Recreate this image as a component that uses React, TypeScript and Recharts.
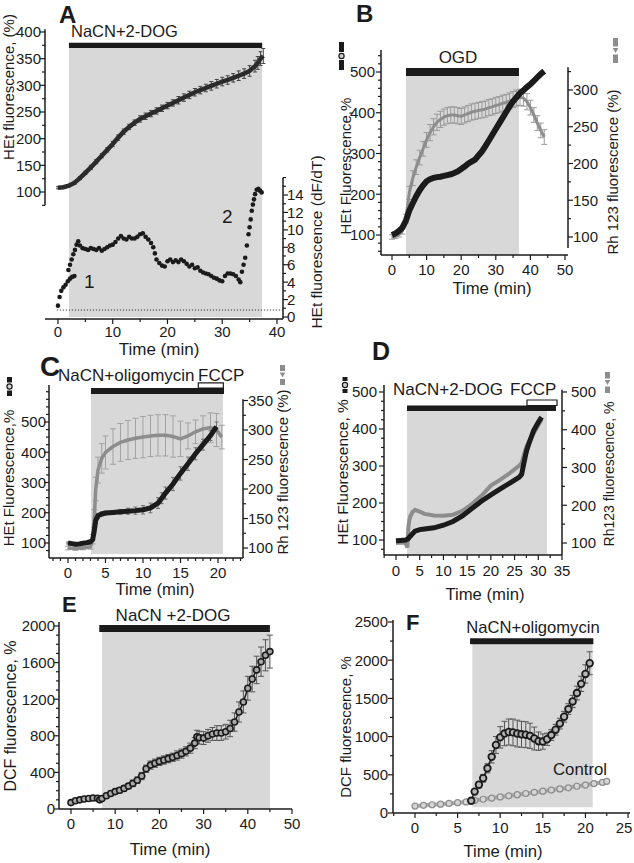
import React from "react";
import { ComposedChart, Line, XAxis, YAxis, ReferenceArea, ReferenceLine, ErrorBar } from "recharts";

const W = 634;
const H = 863;
const FONT = '"Liberation Sans", Arial, Helvetica, sans-serif';
const INK = "#1b1b1b";
const SHADE = "#d8d8d8";
const RH = "#8d8d8d";

// A: HEt signal (left) and its derivative dF/dT (right)
const A_T = [0, 1, 2, 3, 4, 5, 6, 7, 8, 9, 10, 11, 12, 13, 14, 15, 16, 17, 18, 19, 20, 21, 22, 23, 24, 25, 26, 27, 28, 29, 30, 31, 32, 33, 34, 35, 36, 36.5, 37, 37.5];
const A_HET = [108, 109, 112, 117, 126, 136, 146, 157, 168, 179, 190, 202, 213, 222, 230, 237, 242, 247, 252, 257, 262, 267, 272, 277, 282, 287, 291, 295, 299, 303, 307, 310, 314, 318, 322, 327, 336, 342, 350, 355];
const A_HET_E = [2, 2, 2, 3, 3, 3, 4, 4, 4, 4, 5, 5, 5, 5, 5, 6, 6, 6, 6, 6, 6, 6, 7, 7, 7, 7, 7, 7, 8, 8, 8, 8, 8, 9, 9, 10, 11, 12, 13, 14];
const A_RATE_T = [0, 0.3, 0.6, 1.0, 1.4, 1.8, 2.2, 2.6, 3.0, 1.9, 2.2, 2.5, 2.8, 3.1, 3.4, 3.7, 4.0, 4.5, 5.0, 5.5, 6.0, 6.5, 7.0, 7.5, 8.0, 8.5, 9.0, 9.5, 10.0, 10.5, 11.0, 11.5, 12.0, 12.5, 13.0, 13.5, 14.0, 14.5, 15.0, 15.5, 16.0, 16.5, 17.0, 17.4, 17.7, 18.0, 18.5, 19.0, 19.5, 20.0, 20.5, 21.0, 21.5, 22.0, 22.5, 23.0, 23.5, 24.0, 24.5, 25.0, 25.5, 26.0, 26.5, 27.0, 27.5, 28.0, 28.5, 29.0, 29.5, 30.0, 30.5, 31.0, 31.5, 32.0, 32.5, 33.0, 33.3, 33.6, 33.9, 34.2, 34.5, 34.8, 35.0, 35.2, 35.4, 35.6, 35.8, 36.0, 36.3, 36.6, 36.9, 37.2];
const A_RATE_V = [1.3, 2.3, 3.0, 3.4, 3.7, 4.1, 4.4, 4.6, 4.7, 5.4, 6.0, 6.6, 7.2, 7.7, 8.3, 8.7, 8.2, 7.9, 7.8, 7.7, 7.9, 7.8, 7.7, 7.9, 7.6, 7.8, 8.0, 8.2, 8.3, 8.6, 9.0, 9.3, 9.0, 8.9, 9.2, 9.0, 9.0, 9.2, 9.5, 9.6, 9.2, 8.9, 8.5, 8.0, 7.3, 6.6, 6.2, 5.9, 5.8, 6.4, 6.6, 6.3, 6.5, 6.3, 6.6, 6.4, 6.1, 5.8, 6.0, 5.6, 5.7, 5.3, 5.1, 5.0, 4.9, 4.7, 4.5, 4.4, 4.2, 4.1, 4.7, 5.0, 5.0, 4.9, 4.7, 4.3, 4.0, 5.2, 6.0, 6.8, 8.2, 9.5, 10.3, 11.2, 12.2, 12.9, 13.5, 14.1, 14.6, 14.7, 14.5, 14.3];
const A_XLAB = [0, 10, 20, 30, 40];
const A_YLAB = [100, 150, 200, 250, 300, 350, 400];
const A_RLAB = [0, 2, 4, 6, 8, 10, 12, 14];

// B: OGD, HEt (left) and Rh123 (right)
const B_T = [0, 1, 2, 3, 4, 5, 6, 7, 8, 9, 10, 11, 12, 13, 14, 15, 16, 17, 18, 19, 20, 21, 22, 23, 24, 25, 26, 27, 28, 29, 30, 31, 32, 33, 34, 35, 36, 37, 38, 39, 40, 41, 42, 43, 44];
const B_HET = [100, 104, 110, 118, 135, 160, 178, 195, 210, 222, 232, 237, 240, 242, 243, 245, 247, 249, 252, 256, 262, 268, 275, 280, 285, 295, 305, 318, 332, 346, 360, 374, 388, 402, 416, 428, 438, 448, 455, 463, 470, 478, 487, 495, 502];
const B_RH = [100, 101, 103, 108, 125, 160, 180, 195, 208, 220, 232, 242, 250, 256, 260, 263, 265, 266, 266, 265, 264, 266, 268, 270, 271, 272, 273, 274, 276, 277, 279, 280, 282, 283, 285, 287, 289, 290, 289, 284, 276, 266, 255, 245, 236];
const B_RH_E = [3, 3, 3, 4, 6, 9, 10, 10, 10, 10, 10, 11, 11, 11, 11, 11, 11, 11, 11, 11, 11, 11, 11, 11, 11, 11, 11, 11, 11, 11, 11, 11, 11, 11, 11, 11, 11, 11, 11, 11, 10, 10, 10, 10, 10];
const B_XLAB = [0, 10, 20, 30, 40, 50];
const B_YLAB = [100, 200, 300, 400, 500];
const B_RLAB = [100, 150, 200, 250, 300];

// C: NaCN+oligomycin then FCCP
const C_T = [0, 0.5, 1, 1.5, 2, 2.5, 3, 3.3, 3.5, 3.7, 4, 4.5, 5, 6, 7, 8, 9, 10, 11, 12, 12.5, 13, 14, 15, 16, 17, 18, 19, 19.8];
const C_HET = [100, 98, 96, 97, 99, 101, 104, 112, 140, 175, 190, 196, 199, 201, 203, 205, 207, 210, 216, 232, 248, 265, 295, 330, 362, 395, 425, 455, 485];
const C_HET_E = [3, 3, 3, 3, 3, 3, 4, 6, 10, 10, 8, 6, 6, 6, 8, 10, 12, 14, 16, 18, 18, 20, 22, 22, 22, 20, 18, 16, 15];
const C_RH_T = [0, 1, 2, 3, 3.3, 3.5, 3.7, 4, 4.5, 5, 6, 7, 8, 9, 10, 11, 12, 13, 14, 15, 16, 17, 18, 19, 19.8, 20.5];
const C_RH = [100, 99, 100, 102, 115, 150, 200, 232, 252, 262, 272, 279, 283, 286, 288, 290, 291, 291, 289, 285, 290, 297, 302, 304, 300, 288];
const C_RH_E = [3, 3, 3, 4, 8, 15, 20, 22, 25, 28, 30, 32, 33, 34, 35, 35, 35, 35, 35, 30, 22, 20, 22, 25, 28, 20];
const C_XLAB = [0, 5, 10, 15, 20];
const C_YLAB = [100, 200, 300, 400, 500];
const C_RLAB = [100, 150, 200, 250, 300, 350];

// D: NaCN+2-DOG then FCCP
const D_T = [0, 1, 2, 2.5, 3, 4, 5, 6, 8, 10, 12, 14, 16, 18, 20, 22, 24, 26, 26.5, 27, 27.5, 28, 29, 30, 30.7];
const D_HET = [98, 99, 100, 103, 110, 124, 128, 130, 133, 140, 150, 165, 185, 205, 222, 238, 254, 270, 278, 310, 340, 360, 395, 418, 432];
const D_RH_T = [0, 1, 2, 2.4, 2.6, 2.8, 3, 3.5, 4, 5, 6, 8, 10, 12, 14, 16, 18, 20, 22, 24, 26, 26.5, 27, 27.5, 28, 29, 30, 30.7];
const D_RH = [100, 101, 100, 88, 140, 160, 170, 182, 188, 183, 177, 173, 172, 175, 185, 203, 225, 252, 268, 285, 305, 312, 335, 355, 368, 390, 412, 428];
const D_XLAB = [0, 5, 10, 15, 20, 25, 30, 35];
const D_YLAB = [100, 200, 300, 400, 500];
const D_RLAB = [100, 200, 300, 400, 500];

// E: DCF, NaCN +2-DOG
const E_T = [0, 1, 2, 3, 4, 5, 6, 6.5, 7, 8, 9, 10, 11, 12, 13, 14, 15, 16, 17, 18, 19, 20, 21, 22, 23, 24, 25, 26, 27, 28, 28.5, 29, 30, 31, 32, 33, 34, 35, 36, 37, 38, 39, 40, 41, 42, 43, 44, 45];
const E_DCF = [70, 90, 100, 110, 115, 120, 118, 100, 115, 145, 170, 190, 205, 225, 250, 280, 315, 360, 440, 480, 500, 520, 535, 550, 565, 585, 605, 630, 665, 720, 790, 780, 775, 800, 820, 830, 830, 845, 880, 950, 1060, 1170, 1320, 1420, 1520, 1610, 1680, 1720];
const E_DCF_E = [20, 20, 20, 20, 20, 20, 20, 20, 20, 25, 25, 25, 30, 30, 30, 35, 35, 40, 40, 45, 45, 45, 45, 45, 45, 50, 50, 50, 55, 60, 70, 70, 70, 70, 70, 80, 80, 80, 90, 100, 110, 120, 130, 140, 150, 160, 170, 180];
const E_XLAB = [0, 10, 20, 30, 40, 50];
const E_YLAB = [0, 400, 800, 1200, 1600, 2000];

// F: DCF, NaCN+oligomycin vs control
const F_T = [6.6, 7, 7.5, 8, 8.5, 9, 9.5, 10, 10.5, 11, 11.5, 12, 12.5, 13, 13.5, 14, 14.5, 15, 15.5, 16, 16.5, 17, 17.5, 18, 18.5, 19, 19.5, 20, 20.5];
const F_OLIGO = [160, 280, 370, 455, 585, 735, 890, 990, 1040, 1060, 1055, 1040, 1030, 1025, 1010, 975, 940, 935, 965, 1020, 1090, 1170, 1260, 1360, 1460, 1570, 1690, 1820, 1960];
const F_OLIGO_E = [20, 30, 40, 50, 60, 80, 110, 140, 160, 170, 175, 175, 170, 170, 165, 150, 120, 100, 80, 70, 70, 70, 70, 70, 80, 90, 100, 120, 150];
const F_CTRL_T = [0, 1, 2, 3, 4, 5, 6, 7, 8, 9, 10, 11, 12, 13, 14, 15, 16, 17, 18, 19, 20, 21, 22, 22.5];
const F_CTRL = [90, 100, 108, 115, 125, 135, 145, 165, 180, 195, 210, 225, 240, 255, 270, 285, 300, 315, 330, 350, 365, 385, 400, 415];
const F_XLAB = [0, 5, 10, 15, 20, 25];
const F_YLAB = [0, 500, 1000, 1500, 2000, 2500];

const steps = (from: number, to: number, by: number) =>
  Array.from({ length: Math.round((to - from) / by) + 1 }, (_, i) => +(from + i * by).toFixed(3));

const rows = (t: number[], v: number[], e?: number[]) => t.map((x, i) => ({ t: x, v: v[i], e: e ? e[i] : 0 }));

// plot box in page pixels -> chart margins (left axis 40 wide, x axis 30 high)
const frame = (l: number, t: number, r: number, b: number, rightAxis = false) => ({
  left: l - 40,
  top: t,
  right: W - r - (rightAxis ? 40 : 0),
  bottom: H - b - 30,
});

type Side = "left" | "right" | "bottom";

const mkTick = (side: Side, labels: number[], gap: number) => (p: any) => {
  const { x, y, payload } = p;
  const v = payload.value as number;
  const major = labels.includes(v);
  const len = major ? 5 : 3;
  if (side === "bottom") {
    return (
      <g>
        <line x1={x} y1={y} x2={x} y2={y + len} stroke={INK} strokeWidth={1.2} />
        {major && (
          <text x={Math.min(x, W - 10)} y={y + gap} dy="0.72em" textAnchor="middle" fontSize={15} fontFamily={FONT} fill={INK}>
            {v}
          </text>
        )}
      </g>
    );
  }
  const d = side === "left" ? -1 : 1;
  return (
    <g>
      <line x1={x} y1={y} x2={x + d * len} y2={y} stroke={INK} strokeWidth={1.2} />
      {major && (
        <text x={x + d * gap} y={y} dy="0.36em" textAnchor={side === "left" ? "end" : "start"} fontSize={15} fontFamily={FONT} fill={INK}>
          {v}
        </text>
      )}
    </g>
  );
};

const axisBase = { type: "number" as const, allowDataOverflow: true, interval: 0 as const, tickSize: 0, tickMargin: 0, tickLine: false };
const xLine = { stroke: INK, strokeWidth: 1.5 };

const band = (id: string, x1: number, x2: number, y1: number, y2: number, fill: string, stroke = "none") => (
  <ReferenceArea yAxisId={id} x1={x1} x2={x2} y1={y1} y2={y2} fill={fill} fillOpacity={1} stroke={stroke} strokeWidth={1.2} ifOverflow="visible" />
);

const vAxis = (id: string, x: number, y0: number, y1: number) => (
  <ReferenceLine yAxisId={id} segment={[{ x, y: y0 }, { x, y: y1 }]} stroke={INK} strokeWidth={1.5} ifOverflow="visible" />
);

const abs: React.CSSProperties = { position: "absolute", left: 0, top: 0 };

const PanelA = () => (
  <div style={abs}>
    <ComposedChart width={W} height={H} margin={frame(45, 29, 283, 319, true)}>
      <XAxis {...axisBase} dataKey="t" domain={[-2.37, 41.1]} ticks={steps(0, 40, 5)} axisLine={xLine} tick={mkTick("bottom", A_XLAB, 7)} height={30} />
      <YAxis {...axisBase} yAxisId="l" domain={[-138.1, 405.6]} ticks={steps(75, 400, 25)} axisLine={false} tick={mkTick("left", A_YLAB, 4)} width={40} />
      <YAxis {...axisBase} yAxisId="r" orientation="right" domain={[-0.23, 33.05]} ticks={steps(0, 16, 1)} axisLine={false} tick={mkTick("right", A_RLAB, 4)} width={40} />
      {band("l", 2, 37.26, -134.4, 370, SHADE)}
      {band("l", 2, 37.3, 370, 380, INK)}
      {vAxis("l", -2.37, 75, 405)}
      {vAxis("r", 41.1, -0.23, 16)}
      <ReferenceLine yAxisId="r" segment={[{ x: -0.2, y: 0.8 }, { x: 41.1, y: 0.8 }]} stroke={INK} strokeWidth={1} strokeDasharray="1 2" ifOverflow="visible" />
      <Line yAxisId="l" data={rows(A_T, A_HET, A_HET_E)} dataKey="v" stroke="#2b2b2b" strokeWidth={4.5} dot={false} activeDot={false} isAnimationActive={false}>
        <ErrorBar dataKey="e" width={2} stroke="#444" strokeWidth={1} />
      </Line>
      <Line yAxisId="r" data={rows(A_RATE_T, A_RATE_V)} dataKey="v" stroke="none" dot={{ r: 2.3, fill: INK, stroke: "none" }} activeDot={false} isAnimationActive={false} />
    </ComposedChart>
  </div>
);

const PanelB = () => (
  <div style={abs}>
    <ComposedChart width={W} height={H} margin={frame(381, 50, 568, 255, true)}>
      <XAxis {...axisBase} dataKey="t" domain={[-3.18, 50.87]} ticks={steps(0, 50, 5)} axisLine={xLine} tick={mkTick("bottom", B_XLAB, 9)} height={30} />
      <YAxis {...axisBase} yAxisId="l" domain={[50.9, 554]} ticks={steps(60, 540, 20)} axisLine={xLine} tick={mkTick("left", B_YLAB, 6)} width={40} />
      <YAxis {...axisBase} yAxisId="r" orientation="right" domain={[75.5, 354.4]} ticks={steps(100, 325, 25)} axisLine={false} tick={mkTick("right", B_RLAB, 5)} width={40} />
      {band("l", 4.05, 36.7, 50.9, 490, SHADE)}
      {band("l", 4.05, 36.7, 490, 510, INK)}
      {vAxis("r", 50.87, 85, 331)}
      <Line yAxisId="r" data={rows(B_T, B_RH, B_RH_E)} dataKey="v" stroke={RH} strokeWidth={3} dot={false} activeDot={false} isAnimationActive={false}>
        <ErrorBar dataKey="e" width={3} stroke="#9a9a9a" strokeWidth={1} />
      </Line>
      <Line yAxisId="l" data={rows(B_T, B_HET)} dataKey="v" stroke={INK} strokeWidth={6} dot={false} activeDot={false} isAnimationActive={false} />
    </ComposedChart>
  </div>
);

const PanelC = () => (
  <div style={abs}>
    <ComposedChart width={W} height={H} margin={frame(49, 385, 243, 558, true)}>
      <XAxis {...axisBase} dataKey="t" domain={[-2.53, 23.33]} ticks={steps(-2, 23, 1)} axisLine={xLine} tick={mkTick("bottom", C_XLAB, 9)} height={30} />
      <YAxis {...axisBase} yAxisId="l" domain={[50.4, 622.3]} ticks={steps(75, 600, 25)} axisLine={xLine} tick={mkTick("left", C_YLAB, 3)} width={40} />
      <YAxis {...axisBase} yAxisId="r" orientation="right" domain={[83.1, 376.3]} ticks={steps(100, 350, 25)} axisLine={false} tick={mkTick("right", C_RLAB, 5)} width={40} />
      {band("l", 3.07, 20.67, 63.6, 592.6, SHADE)}
      {band("l", 3.07, 20.8, 592.6, 612.4, INK)}
      {band("l", 17.37, 20.71, 612.4, 629, "#ffffff", INK)}
      {vAxis("r", 23.33, 83.1, 352)}
      <Line yAxisId="r" data={rows(C_RH_T, C_RH, C_RH_E)} dataKey="v" stroke={RH} strokeWidth={3.5} dot={false} activeDot={false} isAnimationActive={false}>
        <ErrorBar dataKey="e" width={3} stroke="#a2a2a2" strokeWidth={1} />
      </Line>
      <Line yAxisId="l" data={rows(C_T, C_HET, C_HET_E)} dataKey="v" stroke={INK} strokeWidth={5} dot={false} activeDot={false} isAnimationActive={false}>
        <ErrorBar dataKey="e" width={2} stroke="#707070" strokeWidth={1} />
      </Line>
    </ComposedChart>
  </div>
);

const PanelD = () => (
  <div style={abs}>
    <ComposedChart width={W} height={H} margin={frame(384, 385, 562, 555, true)}>
      <XAxis {...axisBase} dataKey="t" domain={[-2.53, 35]} ticks={steps(-2.5, 35, 2.5)} axisLine={xLine} tick={mkTick("bottom", D_XLAB, 10)} height={30} />
      <YAxis {...axisBase} yAxisId="l" domain={[59.5, 518.9]} ticks={steps(75, 500, 25)} axisLine={xLine} tick={mkTick("left", D_YLAB, 7)} width={40} />
      <YAxis {...axisBase} yAxisId="r" orientation="right" domain={[68.2, 518.5]} ticks={steps(100, 500, 50)} axisLine={false} tick={mkTick("right", D_RLAB, 9)} width={40} />
      {band("l", 2.32, 31.84, 59.5, 448.6, SHADE)}
      {band("l", 2.32, 33.73, 448.6, 463.5, INK)}
      {band("l", 27.62, 33.95, 463.5, 478.4, "#ffffff", INK)}
      {vAxis("r", 35, 68.2, 506)}
      <Line yAxisId="r" data={rows(D_RH_T, D_RH)} dataKey="v" stroke={RH} strokeWidth={4} dot={false} activeDot={false} isAnimationActive={false} />
      <Line yAxisId="l" data={rows(D_T, D_HET)} dataKey="v" stroke={INK} strokeWidth={5} dot={false} activeDot={false} isAnimationActive={false} />
    </ComposedChart>
  </div>
);

const PanelE = () => (
  <div style={abs}>
    <ComposedChart width={W} height={H} margin={frame(59, 622, 292, 809)}>
      <XAxis {...axisBase} dataKey="t" domain={[-2.71, 50]} ticks={steps(0, 50, 5)} axisLine={xLine} tick={mkTick("bottom", E_XLAB, 9)} height={30} />
      <YAxis {...axisBase} yAxisId="l" domain={[0, 2043.7]} ticks={steps(0, 2000, 100)} axisLine={xLine} tick={mkTick("left", E_YLAB, 4)} width={40} />
      {band("l", 7.0, 45.0, 0, 1934, SHADE)}
      {band("l", 6.4, 45.0, 1934, 2011, INK)}
      <Line yAxisId="l" data={rows(E_T, E_DCF, E_DCF_E)} dataKey="v" stroke={INK} strokeWidth={1.5} dot={{ r: 3, stroke: INK, strokeWidth: 1.6, fill: "#a8a8a8" }} activeDot={false} isAnimationActive={false}>
        <ErrorBar dataKey="e" width={3} stroke="#555" strokeWidth={1} />
      </Line>
    </ComposedChart>
  </div>
);

const PanelF = () => (
  <div style={abs}>
    <ComposedChart width={W} height={H} margin={frame(393, 620, 630, 813)}>
      <XAxis {...axisBase} dataKey="t" domain={[-2.58, 25.23]} ticks={steps(-2.5, 25, 2.5)} axisLine={xLine} tick={mkTick("bottom", F_XLAB, 9)} height={30} />
      <YAxis {...axisBase} yAxisId="l" domain={[0, 2526]} ticks={steps(0, 2500, 250)} axisLine={xLine} tick={mkTick("left", F_YLAB, 5)} width={40} />
      {band("l", 6.73, 20.85, 75, 2208, SHADE)}
      {band("l", 6.46, 20.93, 2208, 2287, INK)}
      <Line yAxisId="l" data={rows(F_CTRL_T, F_CTRL)} dataKey="v" stroke="#a8a8a8" strokeWidth={4} dot={{ r: 3, stroke: "#8c8c8c", strokeWidth: 1.2, fill: "#d5d5d5" }} activeDot={false} isAnimationActive={false} />
      <Line yAxisId="l" data={rows(F_T, F_OLIGO, F_OLIGO_E)} dataKey="v" stroke={INK} strokeWidth={1.5} dot={{ r: 3.3, stroke: INK, strokeWidth: 1.8, fill: "#b5b5b5" }} activeDot={false} isAnimationActive={false}>
        <ErrorBar dataKey="e" width={3} stroke="#555" strokeWidth={1} />
      </Line>
    </ComposedChart>
  </div>
);

const Txt = ({ x, y, size = 15, bold = false, anchor = "start", rot = false, children }: any) => (
  <text
    x={x}
    y={y}
    fontSize={size}
    fontWeight={bold ? 700 : 400}
    textAnchor={anchor}
    fill={INK}
    fontFamily={FONT}
    transform={rot ? `rotate(-90 ${x} ${y})` : undefined}
  >
    {children}
  </text>
);

// little rotated legend sample next to each y title
const Glyph = ({ x, y0, y1, gray = false }: { x: number; y0: number; y1: number; gray?: boolean }) => {
  const c = gray ? RH : INK;
  const m = (y0 + y1) / 2;
  return (
    <g>
      <rect x={x - 2.5} y={y0} width={5} height={m - 4 - y0} fill={c} />
      <rect x={x - 2.5} y={m + 4} width={5} height={y1 - m - 4} fill={c} />
      {gray ? (
        <path d={`M${x - 2.8},${m - 2.5} L${x + 2.8},${m - 2.5} L${x},${m + 2.5} Z`} fill={c} />
      ) : (
        <circle cx={x} cy={m} r={2.6} fill="#d0d0d0" stroke={c} strokeWidth={1.2} />
      )}
    </g>
  );
};

const Overlay = () => (
  <svg width={W} height={H} style={{ ...abs, pointerEvents: "none" }}>
    {/* A */}
    <Txt x={59} y={23} size={24} bold>A</Txt>
    <Txt x={71} y={37} size={16.5}>NaCN+2-DOG</Txt>
    <Txt x={84} y={288} size={19}>1</Txt>
    <Txt x={222} y={223} size={19}>2</Txt>
    <Txt x={159} y={355} size={17} anchor="middle">Time (min)</Txt>
    <Txt x={14} y={87} size={15} anchor="middle" rot>HEt fluorescence, (%)</Txt>
    <Txt x={322} y={242} size={15.5} anchor="middle" rot>HEt fluorescence (dF/dT)</Txt>
    {/* B */}
    <Txt x={356} y={22} size={24} bold>B</Txt>
    <Txt x={458} y={63} size={17} anchor="middle">OGD</Txt>
    <Txt x={351} y={166} size={15} anchor="middle" rot>HEt Fluorescence,%</Txt>
    <Txt x={618} y={172} size={15} anchor="middle" rot>Rh 123 fluorescence (%)</Txt>
    <Txt x={492} y={294} size={16.7} anchor="middle">Time (min)</Txt>
    <Glyph x={341.5} y0={42} y1={70} />
    <Glyph x={615.5} y0={38} y1={63} gray />
    {/* C */}
    <Txt x={40} y={376} size={28} bold>C</Txt>
    <Txt x={58} y={381} size={17}>NaCN+oligomycin</Txt>
    <Txt x={198} y={381} size={17}>FCCP</Txt>
    <Txt x={14} y={478} size={15} anchor="middle" rot>HEt Fluorescence,%</Txt>
    <Txt x={288} y={472} size={15} anchor="middle" rot>Rh 123 fluorescence (%)</Txt>
    <Txt x={155} y={595} size={16.7} anchor="middle">Time (min)</Txt>
    <Glyph x={9.5} y0={377} y1={396} />
    <Glyph x={282.5} y0={365} y1={385} gray />
    {/* D */}
    <Txt x={372} y={360} size={25} bold>D</Txt>
    <Txt x={393} y={395} size={17}>NaCN+2-DOG</Txt>
    <Txt x={510} y={395} size={17}>FCCP</Txt>
    <Txt x={348} y={472} size={15.5} anchor="middle" rot>HEt Fluorescence, %</Txt>
    <Txt x={614} y={474} size={14} anchor="middle" rot>Rh123 fluorescence, %</Txt>
    <Txt x={485} y={600} size={16.7} anchor="middle">Time (min)</Txt>
    <Glyph x={345} y0={377} y1={393} />
    <Glyph x={607.5} y0={372} y1={393} gray />
    {/* E */}
    <Txt x={62} y={612} size={22} bold>E</Txt>
    <Txt x={173} y={621} size={17} anchor="middle">NaCN +2-DOG</Txt>
    <Txt x={16} y={716} size={16} anchor="middle" rot>DCF fluorescence, %</Txt>
    <Txt x={170} y={855} size={17} anchor="middle">Time (min)</Txt>
    {/* F */}
    <Txt x={406} y={630} size={22} bold>F</Txt>
    <Txt x={533} y={633} size={16.6} anchor="middle">NaCN+oligomycin</Txt>
    <Txt x={553} y={775} size={16.8}>Control</Txt>
    <Txt x={351} y={727} size={15} anchor="middle" rot>DCF fluorescence, %</Txt>
    <Txt x={503} y={857} size={16.7} anchor="middle">Time (min)</Txt>
  </svg>
);

export default function App() {
  return (
    <div style={{ ...abs, width: W, height: H, background: "#fff", fontFamily: FONT, overflow: "hidden" }}>
      <PanelA />
      <PanelB />
      <PanelC />
      <PanelD />
      <PanelE />
      <PanelF />
      <Overlay />
    </div>
  );
}
